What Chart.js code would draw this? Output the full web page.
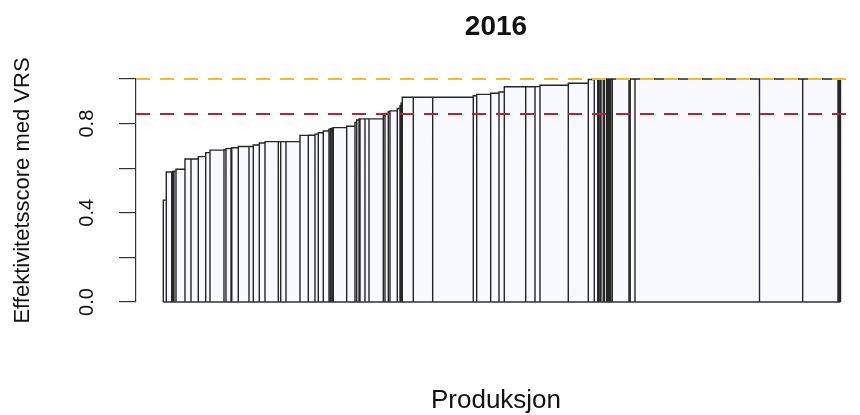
<!DOCTYPE html>
<html>
<head>
<meta charset="utf-8">
<title>2016</title>
<script src="https://cdn.jsdelivr.net/npm/chart.js@4.4.0/dist/chart.umd.min.js"></script>
<style>
  html, body { margin: 0; padding: 0; background: #fff; }
</style>
</head>
<body>
<canvas id="salter" width="860" height="415"></canvas>
<script>
// produksjon per enhet (bredde på søylene), sortert etter effektivitet
const produksjon = [
  30, 54, 11, 12, 20, 90, 60, 73, 74, 43,
  140, 20, 50, 8, 65, 107, 43, 60, 57, 133,
  24, 53, 140, 83, 67, 33, 50, 57, 15, 15,
  13, 134, 83, 17, 23, 10, 50, 40, 143, 17,
  33, 17, 73, 27, 10, 13, 110, 194, 406, 34,
  140, 83, 53, 214, 93, 50, 283, 200, 60, 34,
  8, 15, 10, 23, 12, 22, 13, 10, 6, 6,
  8, 13, 167, 5, 7, 48, 1245, 432, 353, 8,
  8, 9
];

// effektivitetsscore med VRS for hver enhet
const effektivitet = [
  0.457, 0.583, 0.583, 0.585, 0.587, 0.595, 0.641, 0.641, 0.652, 0.670,
  0.681, 0.683, 0.688, 0.690, 0.692, 0.697, 0.697, 0.704, 0.713, 0.719,
  0.719, 0.719, 0.719, 0.747, 0.748, 0.753, 0.759, 0.767, 0.775, 0.777,
  0.779, 0.782, 0.788, 0.805, 0.816, 0.821, 0.821, 0.821, 0.821, 0.835,
  0.846, 0.853, 0.857, 0.868, 0.880, 0.891, 0.918, 0.918, 0.918, 0.925,
  0.931, 0.936, 0.942, 0.965, 0.965, 0.966, 0.972, 0.981, 0.998, 1,
  1, 1, 1, 1, 1, 1, 1, 1, 1, 1,
  1, 1, 1, 1, 1, 1, 1, 1, 1, 1,
  1, 1
];

const yTicks = [0, 0.2, 0.4, 0.6, 0.8, 1.0];
const yTickEtiketter = ['0.0', '', '0.4', '', '0.8', ''];

const fullEffektiv = 1.0;
const snittEffektiv = 0.843;

// søylene som ett sammenhengende omriss: opp, bort, ned for hver enhet
let kum = 0;
const omriss = [];
produksjon.forEach((p, i) => {
  omriss.push({ x: kum, y: 0 }, { x: kum, y: effektivitet[i] });
  kum += p;
  omriss.push({ x: kum, y: effektivitet[i] }, { x: kum, y: 0 });
});
const total = kum;

const xMin = -total * 0.0403;
const xMax = total * 1.0229;

const skrift = "'Liberation Sans', Arial, Helvetica, sans-serif";
Chart.defaults.font.family = skrift;

new Chart(document.getElementById('salter'), {
  type: 'scatter',
  data: {
    datasets: [
      {
        label: 'Full effektivitet',
        data: [{ x: xMin, y: fullEffektiv }, { x: xMax, y: fullEffektiv }],
        showLine: true,
        borderColor: '#F7B733',
        borderWidth: 2,
        borderDash: [14, 10],
        pointRadius: 0,
        clip: false,
        xAxisID: 'x',
        yAxisID: 'y'
      },
      {
        label: 'Snitt',
        data: [{ x: xMin, y: snittEffektiv }, { x: xMax, y: snittEffektiv }],
        showLine: true,
        borderColor: '#B3262B',
        borderWidth: 2,
        borderDash: [14, 10],
        pointRadius: 0,
        clip: false,
        xAxisID: 'x',
        yAxisID: 'y'
      },
      {
        label: 'Grunnlinje',
        data: [{ x: 0, y: 0 }, { x: total, y: 0 }],
        showLine: true,
        borderColor: '#333',
        borderWidth: 1.4,
        pointRadius: 0,
        clip: false,
        xAxisID: 'x',
        yAxisID: 'y'
      },
      {
        label: 'Enheter',
        data: omriss,
        showLine: true,
        fill: 'origin',
        backgroundColor: '#F8F8FF',
        borderColor: '#262626',
        borderWidth: 1.4,
        pointRadius: 0,
        tension: 0,
        clip: false,
        xAxisID: 'x',
        yAxisID: 'y'
      }
    ]
  },
  options: {
    responsive: false,
    animation: false,
    devicePixelRatio: 1,
    layout: { padding: { left: 0, right: 4, top: 0, bottom: 0 } },
    plugins: {
      legend: { display: false },
      tooltip: { enabled: false }
    },
    scales: {
      x: {
        type: 'linear',
        position: 'bottom',
        min: xMin,
        max: xMax,
        ticks: { display: false },
        grid: { display: false },
        border: { display: false },
        title: {
          display: true,
          text: 'Produksjon',
          color: '#111',
          font: { size: 26, lineHeight: 1.1 },
          padding: { top: 0, bottom: 0 }
        },
        afterFit(scale) { scale.height = 113; }
      },
      topp: {
        type: 'linear',
        position: 'top',
        ticks: { display: false },
        grid: { display: false },
        border: { display: false },
        title: {
          display: true,
          text: '2016',
          color: '#111',
          font: { size: 28, weight: 'bold' },
          padding: { top: 10, bottom: 0 }
        },
        afterFit(scale) { scale.height = 79; }
      },
      y: {
        type: 'linear',
        position: 'left',
        min: 0,
        max: 1,
        afterBuildTicks(scale) {
          scale.ticks = yTicks.map(v => ({ value: v }));
        },
        afterFit(scale) { scale.width = 136; },
        ticks: {
          minRotation: 90,
          maxRotation: 90,
          crossAlign: 'center',
          padding: 18,
          color: '#111',
          font: { size: 20 },
          callback: (v, i) => yTickEtiketter[i]
        },
        grid: {
          drawOnChartArea: false,
          drawTicks: true,
          tickLength: 17,
          color: '#333',
          lineWidth: 1.2
        },
        border: { display: true, color: '#333', width: 1.2 },
        title: {
          display: true,
          text: 'Effektivitetsscore med VRS',
          color: '#111',
          font: { size: 22 },
          padding: { top: 10, bottom: 0 }
        }
      }
    }
  }
});
</script>
</body>
</html>
